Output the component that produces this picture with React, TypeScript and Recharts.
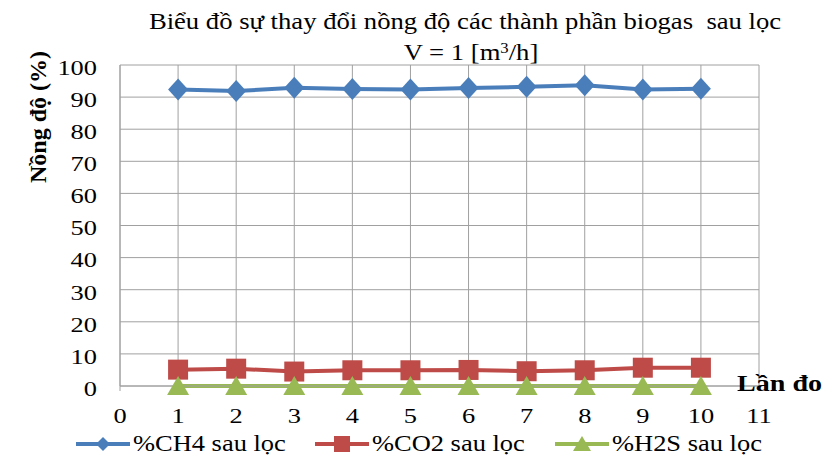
import React from 'react';
import { LineChart, Line, XAxis, YAxis, CartesianGrid } from 'recharts';

const runs = [1, 2, 3, 4, 5, 6, 7, 8, 9, 10];
const ch4 = [92.4, 91.9, 92.9, 92.5, 92.4, 92.8, 93.2, 93.7, 92.4, 92.6];
const co2 = [5.1, 5.4, 4.5, 4.9, 4.9, 5.0, 4.6, 4.9, 5.7, 5.7];
const h2s = [0, 0, 0, 0, 0, 0, 0, 0, 0, 0];
const xTicks = [0, 1, 2, 3, 4, 5, 6, 7, 8, 9, 10, 11];
const yTicks = [0, 10, 20, 30, 40, 50, 60, 70, 80, 90, 100];
const seriesNames = ['%CH4 sau lọc', '%CO2 sau lọc', '%H2S sau lọc'];
const titleLine1 = 'Biểu đồ sự thay đổi nồng độ các thành phần biogas  sau lọc';
const titleLine2 = 'V = 1 [m';
const yLabel = 'Nồng độ (%)';
const xLabel = 'Lần đo';

const colors = ['#4a7ebb', '#be4b48', '#98b954'];
const FONT = '"Liberation Serif", "Times New Roman", serif';
const GRID = '#a0a0a0';

const data = runs.map((r, i) => ({ run: r, ch4: ch4[i], co2: co2[i], h2s: h2s[i] }));

const Diamond = (props: any) => {
  const { cx, cy, index } = props;
  if (cx == null || cy == null) return null;
  return <path key={'d' + index} d={`M${cx},${cy - 11} L${cx + 10},${cy} L${cx},${cy + 11} L${cx - 10},${cy} Z`} fill={colors[0]} />;
};
const Square = (props: any) => {
  const { cx, cy, index } = props;
  if (cx == null || cy == null) return null;
  return <rect key={'s' + index} x={cx - 10} y={cy - 10} width={20} height={20} fill={colors[1]} />;
};
const Tri = (props: any) => {
  const { cx, cy, index } = props;
  if (cx == null || cy == null) return null;
  return <path key={'t' + index} d={`M${cx},${cy - 10} L${cx + 11},${cy + 9} L${cx - 11},${cy + 9} Z`} fill={colors[2]} />;
};

const XTick = (props: any) => {
  const { x, y, payload } = props;
  return (
    <text x={x} y={y} dy="0.71em" textAnchor="middle" fontSize={22} fontFamily={FONT} fill="#000"
      transform={`translate(${x} 0) scale(1.2 1) translate(${-x} 0)`}>
      {payload.value}
    </text>
  );
};
const YTick = (props: any) => {
  const { x, y, payload } = props;
  return (
    <text x={x} y={y + 2} dy="0.355em" textAnchor="end" fontSize={22} fontFamily={FONT} fill="#000"
      transform={`translate(${x} 0) scale(1.2 1) translate(${-x} 0)`}>
      {payload.value}
    </text>
  );
};

const LegendIcon = ({ i }: { i: number }) => (
  <svg width={56} height={20} style={{ display: 'block' }}>
    <line x1={1} y1={10} x2={55} y2={10} stroke={colors[i]} strokeWidth={4} />
    {i === 0 && <path d="M28,3 L35,10 L28,17 L21,10 Z" fill={colors[0]} />}
    {i === 1 && <rect x={20} y={2} width={16} height={16} fill={colors[1]} />}
    {i === 2 && <path d="M28,2 L37,17 L19,17 Z" fill={colors[2]} />}
  </svg>
);

const legendX = [75, 314, 554];

export default function App() {
  return (
    <div style={{ position: 'absolute', left: 0, top: 0, width: 834, height: 456, background: '#fff', fontFamily: FONT, color: '#000' }}>
      <div style={{ position: 'absolute', left: 65, top: 7, width: 800, textAlign: 'center', fontSize: 24, lineHeight: '28px', whiteSpace: 'pre', transform: 'scaleX(1.11)', transformOrigin: '400px 0' }}>
        {titleLine1}
      </div>
      <div style={{ position: 'absolute', left: 71, top: 38, width: 800, textAlign: 'center', fontSize: 24, lineHeight: '28px', whiteSpace: 'pre', transform: 'scaleX(1.11)', transformOrigin: '400px 0' }}>
        {titleLine2}<span style={{ fontSize: 15, verticalAlign: '0.45em', lineHeight: 0 }}>3</span>/h]
      </div>
      <LineChart width={834} height={456} data={data} margin={{ top: 65, right: 75, left: 60, bottom: 40 }}>
        <CartesianGrid stroke={GRID} strokeWidth={1} horizontal vertical />
        <XAxis
          dataKey="run"
          type="number"
          domain={[0, 11]}
          ticks={xTicks}
          interval={0}
          height={30}
          tickSize={5}
          tickMargin={16}
          axisLine={{ stroke: GRID }}
          tickLine={{ stroke: GRID }}
          tick={<XTick />}
        />
        <YAxis
          type="number"
          domain={[0, 100]}
          ticks={yTicks}
          interval={0}
          width={60}
          tickSize={0}
          tickMargin={23}
          axisLine={{ stroke: GRID }}
          tickLine={false}
          tick={<YTick />}
        />
        <Line dataKey="ch4" name={seriesNames[0]} stroke={colors[0]} strokeWidth={4} dot={Diamond} activeDot={false} isAnimationActive={false} />
        <Line dataKey="co2" name={seriesNames[1]} stroke={colors[1]} strokeWidth={4} dot={Square} activeDot={false} isAnimationActive={false} />
        <Line dataKey="h2s" name={seriesNames[2]} stroke={colors[2]} strokeWidth={4} dot={Tri} activeDot={false} isAnimationActive={false} />
      </LineChart>
      <div style={{ position: 'absolute', left: 737, top: 369, fontSize: 24, fontWeight: 'bold', lineHeight: '28px', whiteSpace: 'nowrap', transform: 'scaleX(1.17)', transformOrigin: '0 0' }}>
        {xLabel}
      </div>
      <div style={{ position: 'absolute', left: 38, top: 117, transform: 'translate(-50%, -50%) rotate(-90deg)', fontSize: 24, fontWeight: 'bold', whiteSpace: 'nowrap', lineHeight: 'normal' }}>
        {yLabel}
      </div>
      {seriesNames.map((n, i) => (
        <div key={n} style={{ position: 'absolute', left: legendX[i], top: 430, height: 28, display: 'flex', alignItems: 'center', whiteSpace: 'nowrap' }}>
          <LegendIcon i={i} />
          <span style={{ marginLeft: 2, fontSize: 23, lineHeight: '28px', display: 'inline-block', transform: 'scaleX(1.15)', transformOrigin: '0 50%' }}>{n}</span>
        </div>
      ))}
    </div>
  );
}
